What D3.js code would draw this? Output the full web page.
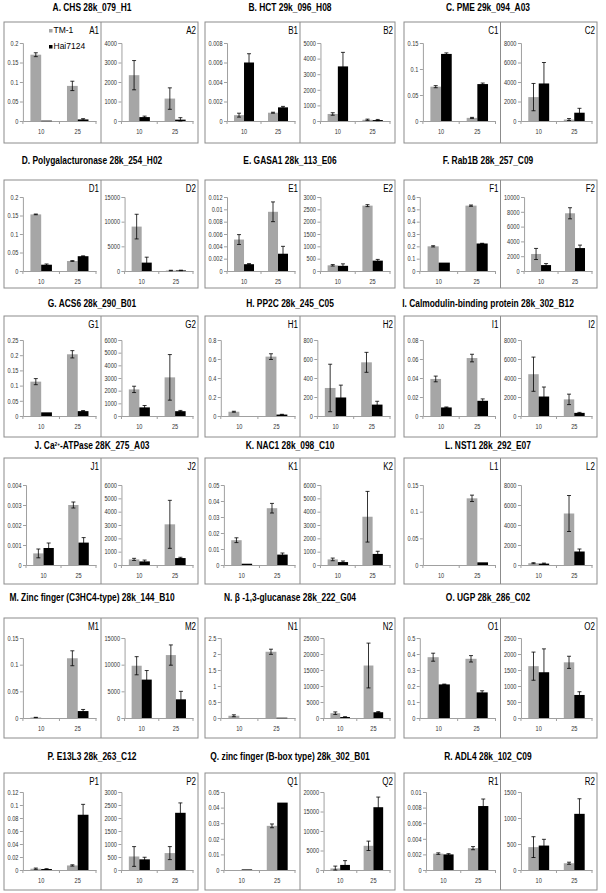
<!DOCTYPE html>
<html>
<head>
<meta charset="utf-8">
<script src="https://cdn.jsdelivr.net/npm/d3@7"></script>
<style>
  body { margin: 0; background: #fff; }
  svg { display: block; }
</style>
</head>
<body>
<div id="chart"></div>
<script>
// categories and series
const categories = ['10', '25'];
const series = ['TM-1', 'Hai7124'];

const panelTitles = [
  'A. CHS 28k_079_H1', 'B. HCT 29k_096_H08', 'C. PME 29k_094_A03',
  'D. Polygalacturonase 28k_254_H02', 'E. GASA1 28k_113_E06', 'F. Rab1B 28k_257_C09',
  'G. ACS6 28k_290_B01', 'H. PP2C 28k_245_C05', 'I. Calmodulin-binding protein 28k_302_B12',
  'J. Ca^{2+}-ATPase 28K_275_A03', 'K. NAC1 28k_098_C10', 'L. NST1 28k_292_E07',
  'M. Zinc finger (C3HC4-type) 28k_144_B10', 'N. \u03b2 -1,3-glucanase 28k_222_G04', 'O. UGP 28k_286_C02',
  'P. E13L3 28k_263_C12', 'Q. zinc finger (B-box type) 28k_302_B01', 'R. ADL4 28k_102_C09'
];

// sub panels in order A1, A2, B1, B2, ...
const subIds = panelTitles.flatMap(t => [t[0] + '1', t[0] + '2']);

const yMax = [0.2, 4000, 0.008, 5000, 0.15, 8000,
  0.2, 15000, 0.012, 3000, 0.6, 10000,
  0.25, 6000, 0.8, 800, 0.08, 8000,
  0.004, 6000, 0.05, 6000, 0.15, 8000,
  0.15, 15000, 2.5, 25000, 0.5, 2500,
  0.12, 3000, 0.05, 20000, 0.01, 1500];

const yStep = [0.05, 1000, 0.002, 1000, 0.05, 2000,
  0.05, 5000, 0.002, 500, 0.1, 2000,
  0.05, 1000, 0.2, 200, 0.02, 2000,
  0.001, 1000, 0.01, 1000, 0.05, 2000,
  0.05, 5000, 0.5, 5000, 0.1, 500,
  0.02, 500, 0.01, 5000, 0.002, 500];

// [at 10, at 25]
const tm1Mean = [[0.17, 0.09], [2350, 1150], [0.0006, 0.00085], [450, 80], [0.066, 0.006], [2450, 150],
  [0.153, 0.027], [9000, 100], [0.0051, 0.0096], [230, 2650], [0.2, 0.53], [2300, 7800],
  [0.113, 0.203], [2100, 3050], [0.045, 0.625], [295, 565], [0.039, 0.061], [4400, 1750],
  [0.00058, 0.003], [420, 3050], [0.0155, 0.0355], [420, 3620], [0, 0.125], [180, 5150],
  [0.001, 0.112], [9800, 11800], [0.07, 2.07], [1500, 16400], [0.38, 0.37], [1620, 1740],
  [0.002, 0.007], [520, 650], [0, 0.0283], [400, 6200], [0.0021, 0.0028], [440, 130]];

const tm1Err = [[0.005, 0.012], [750, 550], [0.0002, 0.00005], [80, 40], [0.002, 0.001], [1400, 100],
  [0.001, 0.001], [2500, 50], [0.0008, 0.0016], [30, 40], [0.005, 0.005], [750, 750],
  [0.01, 0.012], [250, 1800], [0.005, 0.03], [250, 105], [0.003, 0.004], [1800, 550],
  [0.00022, 0.00015], [80, 1800], [0.0015, 0.003], [100, 1900], [0, 0.006], [50, 1800],
  [0.0003, 0.014], [1700, 1900], [0.03, 0.08], [400, 7000], [0.025, 0.02], [440, 190],
  [0.001, 0.001], [380, 250], [0, 0.0012], [600, 1200], [0.0001, 0.0002], [200, 20]];

const haiMean = [[0.001, 0.004], [200, 70], [0.006, 0.0014], [3500, 60], [0.129, 0.071], [3850, 850],
  [0.017, 0.04], [1700, 120], [0.0011, 0.0028], [210, 420], [0.068, 0.223], [800, 3100],
  [0.012, 0.016], [680, 380], [0, 0.015], [195, 120], [0.009, 0.016], [2050, 330],
  [0.00085, 0.00112], [270, 520], [0.0008, 0.0065], [220, 830], [0, 0.005], [140, 1350],
  [0, 0.013], [7200, 3500], [0, 0.01], [300, 1800], [0.21, 0.16], [1430, 720],
  [0.0015, 0.085], [410, 2200], [0.0004, 0.0432], [1300, 16100], [0.002, 0.0082], [470, 1080]];

const haiErr = [[0, 0.002], [50, 100], [0.0009, 0.0001], [900, 40], [0.002, 0.002], [2150, 450],
  [0.002, 0.001], [1100, 50], [0.0001, 0.0012], [80, 50], [0, 0.002], [200, 400],
  [0, 0.002], [150, 60], [0, 0.003], [130, 35], [0.0005, 0.002], [1000, 50],
  [0.00025, 0.00025], [100, 60], [0, 0.001], [80, 200], [0, 0], [50, 250],
  [0, 0.003], [1700, 1500], [0, 0], [100, 200], [0.002, 0.01], [730, 100],
  [0.0005, 0.016], [80, 380], [0, 0], [1100, 2600], [0.0001, 0.0009], [120, 290]];

// layout
const W = 606, H = 893;
const colBox = [[4, 198], [205, 395], [404, 597]];
const titleX = [92, 290, 488];
const rowBox = [
  {title: 11, top: 22, bottom: 143, plotTop: 43, zero: 121},
  {title: 164, top: 180, bottom: 288, plotTop: 197, zero: 271},
  {title: 307, top: 316, bottom: 437, plotTop: 340, zero: 416},
  {title: 449, top: 458, bottom: 584, plotTop: 485, zero: 565},
  {title: 601, top: 618, bottom: 738, plotTop: 638, zero: 718},
  {title: 760, top: 773, bottom: 890, plotTop: 792, zero: 870}
];
const color = {'TM-1': '#a6a6a6', 'Hai7124': '#000'};
const font = "'Liberation Sans',Arial,sans-serif";
const squeeze = 0.8;   // emulate a narrow face
const tickFont = 7;

const svg = d3.select('#chart').append('svg')
  .attr('width', W)
  .attr('height', H);

const fmt = v => String(+v.toFixed(6));

// narrow a plain text element by its own length
function narrowText(sel) {
  sel.each(function () {
    const len = this.getComputedTextLength();
    d3.select(this).attr('textLength', len * squeeze).attr('lengthAdjust', 'spacingAndGlyphs');
  });
}

// measure tick label width
const measure = svg.append('text').style('font-family', font).style('font-size', tickFont + 'px');
function textWidth(s) {
  measure.text(s);
  return measure.node().getComputedTextLength() * squeeze;
}

panelTitles.forEach((title, p) => {
  const r = rowBox[Math.floor(p / 3)];
  const c = colBox[p % 3];
  const mid = (c[0] + c[1]) / 2;
  const g = svg.append('g');

  // title, with ^{..} as superscript
  const tt = g.append('g')
    .attr('transform', `translate(${titleX[p % 3]},${r.title}) scale(${squeeze},1)`)
    .append('text')
    .attr('text-anchor', 'middle')
    .style('font-family', font)
    .style('font-weight', 'bold')
    .style('font-size', '10.5px');
  let shifted = false;
  title.split(/(\^\{[^}]*\})/).forEach(part => {
    if (!part) return;
    if (part.startsWith('^{')) {
      tt.append('tspan').attr('dy', -3.5).style('font-size', '6px').text(part.slice(2, -1));
      shifted = true;
    } else {
      const ts = tt.append('tspan').text(part);
      if (shifted) { ts.attr('dy', 3.5); shifted = false; }
    }
  });

  // frame
  g.append('rect')
    .attr('x', c[0]).attr('y', r.top)
    .attr('width', c[1] - c[0]).attr('height', r.bottom - r.top)
    .attr('fill', 'none').attr('stroke', '#8c8c8c').attr('stroke-width', 1);
  g.append('line')
    .attr('x1', mid).attr('x2', mid).attr('y1', r.top).attr('y2', r.bottom)
    .attr('stroke', '#8c8c8c').attr('stroke-width', 1);

  [0, 1].forEach(s => {
    const idx = p * 2 + s;
    const left = s ? mid : c[0];
    const right = s ? c[1] : mid;
    const n = Math.round(yMax[idx] / yStep[idx]);
    const ticks = d3.range(n + 1).map(i => +(i * yStep[idx]).toFixed(6));
    const lw = d3.max(ticks, t => textWidth(fmt(t)));
    const axisX = left + 4 + lw + 4;
    const plotRight = right - 5;

    const y = d3.scaleLinear().domain([0, yMax[idx]]).range([r.zero, r.plotTop]);
    const x = d3.scaleBand().domain(categories).range([axisX, plotRight]);
    const xs = d3.scaleBand().domain(series).range([0, x.bandwidth()]).paddingOuter(0.7);

    const sg = g.append('g');

    // y axis
    const ya = sg.append('g')
      .attr('transform', `translate(${axisX},0)`)
      .call(d3.axisLeft(y).tickValues(ticks).tickSize(3).tickPadding(1.5).tickFormat(fmt));
    ya.select('.domain').attr('stroke', '#a0a0a0');
    ya.selectAll('.tick line').attr('stroke', '#a0a0a0');
    ya.selectAll('.tick text')
      .attr('fill', '#333')
      .style('font-family', font)
      .style('font-size', tickFont + 'px')
      .call(narrowText);

    // x axis
    const xa = sg.append('g')
      .attr('transform', `translate(0,${r.zero})`)
      .call(d3.axisBottom(x).tickSize(0).tickPadding(8));
    xa.select('.domain').attr('stroke', '#a0a0a0');
    xa.selectAll('.tick text')
      .attr('fill', '#333')
      .style('font-family', font)
      .style('font-size', tickFont + 'px')
      .call(narrowText);
    xa.selectAll('line.bound')
      .data(categories.map(d => x(d)).concat([plotRight]))
      .enter().append('line')
      .attr('class', 'bound')
      .attr('x1', d => d).attr('x2', d => d)
      .attr('y1', 0).attr('y2', 3)
      .attr('stroke', '#a0a0a0');

    const bars = categories.flatMap((cat, ci) => [
      {cat, s: 'TM-1', v: tm1Mean[idx][ci], e: tm1Err[idx][ci]},
      {cat, s: 'Hai7124', v: haiMean[idx][ci], e: haiErr[idx][ci]}
    ]);
    const bx = d => x(d.cat) + xs(d.s);

    sg.selectAll('rect.bar')
      .data(bars.filter(d => d.v > 0))
      .enter().append('rect')
      .attr('class', 'bar')
      .attr('x', bx)
      .attr('width', xs.bandwidth())
      .attr('y', d => y(d.v))
      .attr('height', d => Math.max(0.6, r.zero - y(d.v)))
      .attr('fill', d => color[d.s]);

    // error bars
    const eb = sg.selectAll('g.err')
      .data(bars.filter(d => d.e > 0))
      .enter().append('g')
      .attr('class', 'err')
      .attr('stroke', '#000')
      .attr('stroke-width', 0.8);
    const cx = d => bx(d) + xs.bandwidth() / 2;
    const lo = d => y(Math.max(0, d.v - d.e));
    const hi = d => y(d.v + d.e);
    eb.append('line')
      .attr('x1', cx).attr('x2', cx)
      .attr('y1', lo).attr('y2', hi);
    eb.append('line')
      .attr('x1', d => cx(d) - 2).attr('x2', d => cx(d) + 2)
      .attr('y1', hi).attr('y2', hi);
    eb.append('line')
      .attr('x1', d => cx(d) - 2).attr('x2', d => cx(d) + 2)
      .attr('y1', lo).attr('y2', lo);

    // sub panel label
    sg.append('text')
      .attr('x', right - 2)
      .attr('y', r.top + 12)
      .attr('text-anchor', 'end')
      .style('font-family', font)
      .style('font-size', '10px')
      .text(subIds[idx])
      .call(narrowText);

    // legend in the first panel
    if (idx === 0) {
      const lg = sg.selectAll('g.legend')
        .data(series)
        .enter().append('g')
        .attr('class', 'legend')
        .attr('transform', (d, i) => `translate(49,${r.top + 8 + i * 16})`);
      lg.append('rect')
        .attr('width', 3.5).attr('height', 3.5).attr('y', -1)
        .attr('fill', d => color[d]);
      lg.append('text')
        .attr('x', 4.5).attr('y', 2.7)
        .style('font-family', font)
        .style('font-size', '8.5px')
        .text(d => d);
    }
  });
});
measure.remove();
</script>
</body>
</html>
